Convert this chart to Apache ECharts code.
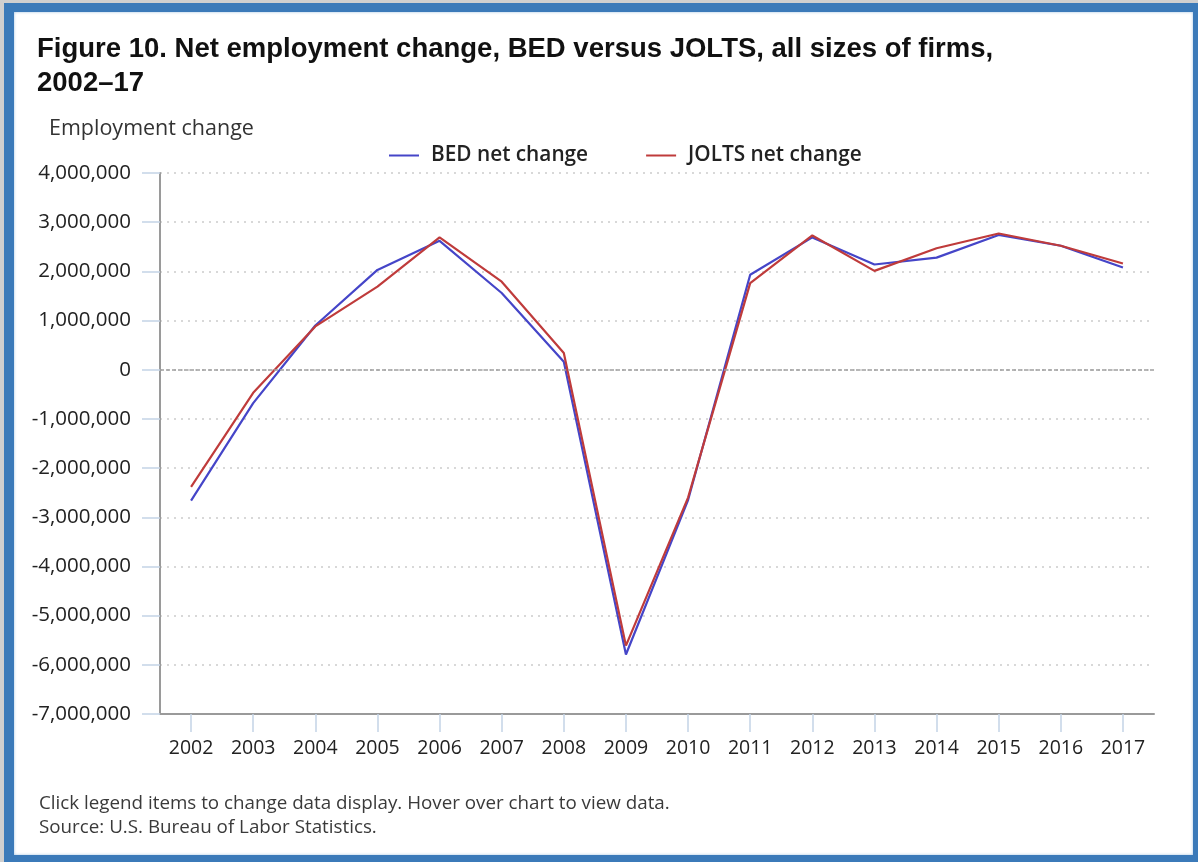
<!DOCTYPE html>
<html>
<head>
<meta charset="utf-8">
<title>Net employment change, BED versus JOLTS</title>
<script src="https://cdn.jsdelivr.net/npm/echarts@6/dist/echarts.min.js"></script>
<style>
  html, body { margin: 0; padding: 0; background: #ffffff; }
  body { width: 1198px; height: 862px; position: relative; overflow: hidden; }
  .edge { position: absolute; left: 0; top: 0; width: 1198px; height: 862px; background: #cfcfcf; }
  .frame {
    position: absolute; left: 4px; top: 3px; width: 1194px; height: 859px;
    box-sizing: border-box; background: #3b7ab9;
  }
  .panel {
    position: absolute; left: 10px; top: 9px; right: 5px; bottom: 7px;
    background: #ffffff; box-shadow: inset 0 0 3px #9fc0e0;
  }
  #chart { position: absolute; left: 0; top: 0; width: 1198px; height: 862px; }
</style>
</head>
<body>
<div class="edge"></div>
<div class="frame"><div class="panel"></div></div>
<div id="chart"></div>
<script>
// Annual net employment change, all sizes of firms
const years = ['2002','2003','2004','2005','2006','2007','2008','2009','2010','2011','2012','2013','2014','2015','2016','2017'];
const bedNetChange   = [-2660000, -680000, 900000, 2030000, 2620000, 1560000, 160000, -5790000, -2650000, 1930000, 2690000, 2140000, 2280000, 2740000, 2520000, 2080000];
const joltsNetChange = [-2380000, -470000, 880000, 1690000, 2690000, 1790000, 340000, -5610000, -2600000, 1760000, 2730000, 2010000, 2470000, 2770000, 2520000, 2160000];
const yMin = -7000000, yMax = 4000000, yStep = 1000000;

const FONT = '"Open Sans", "Noto Sans", sans-serif';
const chart = echarts.init(document.getElementById('chart'), null, { renderer: 'canvas' });

chart.setOption({
  animation: false,
  backgroundColor: 'transparent',
  title: [
    {
      text: 'Figure 10. Net employment change, BED versus JOLTS, all sizes of firms,\n2002\u201317',
      left: 32, top: 27,
      textStyle: { fontFamily: '"Liberation Sans", Arial, sans-serif', fontWeight: 'bold', fontSize: 27.5, lineHeight: 34, color: '#111111' }
    },
    {
      text: 'Employment change',
      left: 44, top: 113,
      textStyle: { fontFamily: FONT, fontWeight: 'normal', fontSize: 21.5, color: '#333333' }
    },
    {
      text: 'Click legend items to change data display. Hover over chart to view data.\nSource: U.S. Bureau of Labor Statistics.',
      left: 34, top: 787,
      textStyle: { fontFamily: FONT, fontWeight: 'normal', fontSize: 18.8, lineHeight: 24, color: '#3a3a3a' }
    }
  ],
  legend: {
    left: 384, top: 140,
    itemWidth: 30, itemHeight: 2, itemGap: 58,
    icon: 'rect',
    textStyle: { fontFamily: FONT, fontSize: 20.8, fontWeight: 600, color: '#222222', padding: [0, 0, 0, 7] },
    data: ['BED net change', 'JOLTS net change']
  },
  grid: { left: 160, top: 173, right: 44, bottom: 148 },
  xAxis: {
    type: 'category',
    data: years,
    boundaryGap: true,
    axisLine: { show: true, onZero: false, lineStyle: { color: '#9a9a9a', width: 2 } },
    axisTick: { show: true, alignWithLabel: true, length: 18, lineStyle: { color: '#c4d4e6', width: 1.5 } },
    axisLabel: { margin: 24, fontFamily: FONT, fontSize: 19.5, color: '#222222' },
    splitLine: { show: false }
  },
  yAxis: {
    type: 'value',
    min: yMin, max: yMax, interval: yStep,
    axisLine: { show: true, onZero: false, lineStyle: { color: '#9a9a9a', width: 2 } },
    axisTick: { show: true, inside: false, length: 18, lineStyle: { color: '#c4d4e6', width: 1.5 } },
    axisLabel: {
      margin: 29, fontFamily: FONT, fontSize: 20.5, color: '#222222',
      formatter: v => v.toLocaleString('en-US')
    },
    splitLine: { show: true, lineStyle: { color: '#cccccc', width: 1.5, type: [2, 5] } }
  },
  series: [
    {
      name: 'BED net change',
      type: 'line',
      data: bedNetChange,
      showSymbol: false, symbol: 'none',
      lineStyle: { color: '#4545c8', width: 2.2 },
      itemStyle: { color: '#4545c8' },
      markLine: {
        silent: true, symbol: 'none', label: { show: false },
        lineStyle: { color: '#a0a0a0', width: 1.5, type: [4, 2] },
        data: [{ yAxis: 0 }]
      }
    },
    {
      name: 'JOLTS net change',
      type: 'line',
      data: joltsNetChange,
      showSymbol: false, symbol: 'none',
      lineStyle: { color: '#bf3b3b', width: 2.2 },
      itemStyle: { color: '#bf3b3b' }
    }
  ]
});
</script>
</body>
</html>
